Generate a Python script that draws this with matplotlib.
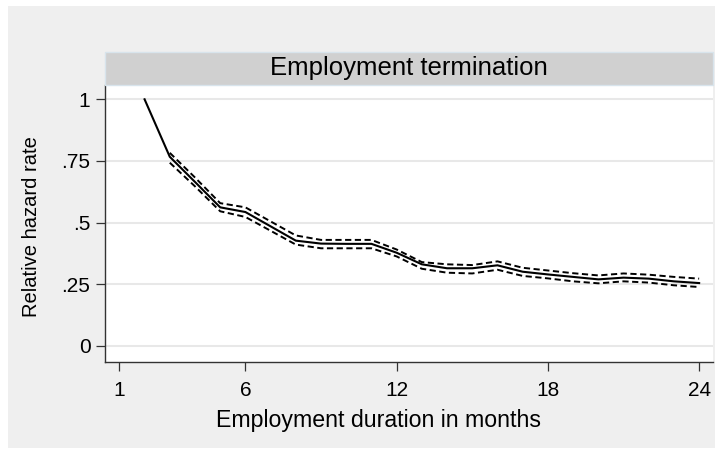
import numpy as np
import matplotlib
matplotlib.use("Agg")
import matplotlib.pyplot as plt
from matplotlib.patches import Rectangle

plt.rcParams['font.family'] = ['Liberation Sans', 'DejaVu Sans']

# relative hazard rate by month of employment (month 2 is the reference)
months = list(range(2, 25))
hazard = [1.0, 0.767, 0.665, 0.562, 0.543, 0.485, 0.427, 0.415, 0.414, 0.414, 0.378,
          0.331, 0.315, 0.315, 0.327, 0.301, 0.290, 0.280, 0.270, 0.277, 0.273, 0.262, 0.255]

# confidence band, months 3..24
ci_months = list(range(3, 25))
ci_upper = [0.783, 0.683, 0.579, 0.562, 0.505, 0.448, 0.430, 0.430, 0.430, 0.391, 0.340,
            0.331, 0.328, 0.343, 0.317, 0.306, 0.295, 0.286, 0.294, 0.289, 0.280, 0.273]
ci_lower = [0.743, 0.647, 0.546, 0.523, 0.467, 0.411, 0.396, 0.396, 0.396, 0.363, 0.313,
            0.297, 0.294, 0.309, 0.284, 0.274, 0.262, 0.254, 0.262, 0.257, 0.246, 0.239]

xticks = [1, 6, 12, 18, 24]
yticks = [0, 0.25, 0.5, 0.75, 1]
yticklabels = ["0", ".25", ".5", ".75", "1"]

W, H = 720, 455
fig = plt.figure(figsize=(W / 100, H / 100), dpi=100, facecolor='white')

# light gray outer region (Stata s2color style)
bg = Rectangle((8 / W, 1 - 448 / H), (715 - 8) / W, (448 - 6) / H,
               transform=fig.transFigure, facecolor='#efefef', edgecolor='none', zorder=-10)
fig.add_artist(bg)

ax = fig.add_axes([105 / W, 1 - 362 / H, (713 - 105) / W, (362 - 85) / H])
ax.set_facecolor('white')

ax.plot(months, hazard, color='black', lw=1.5, solid_joinstyle='miter', zorder=3)
ax.plot(ci_months, ci_upper, color='black', lw=1.4, dashes=(3.2, 1.8), zorder=3)
ax.plot(ci_months, ci_lower, color='black', lw=1.4, dashes=(3.2, 1.8), zorder=3)

ax.set_xlim(0.43, 24.55)
ax.set_ylim(-0.065, 1.058)
ax.set_xticks(xticks)
ax.set_yticks(yticks)
ax.set_yticklabels(yticklabels)
ax.tick_params(axis='both', labelsize=15, length=6.5, width=0.9, color='#333333')
ax.tick_params(axis='x', pad=7)
ax.tick_params(axis='y', pad=4)

ax.grid(axis='y', color='#e8e8e8', lw=1.5)
ax.set_axisbelow(True)
for s in ['top', 'right']:
    ax.spines[s].set_visible(False)
for s in ['left', 'bottom']:
    ax.spines[s].set_color('#333333')
    ax.spines[s].set_linewidth(1.0)

ax.set_xlabel('Employment duration in months', fontsize=16.7)
ax.xaxis.set_label_coords(0.45, -0.168)
ax.set_ylabel('Relative hazard rate', fontsize=14.5)
ax.yaxis.set_label_coords(-0.106, 0.49)

# title bar above the plot region
bar_h = 33 / 277
ax.add_patch(Rectangle((0, 1), 1, bar_h, transform=ax.transAxes, facecolor='#d0d0d0',
                       edgecolor='#d8e4ec', lw=1.0, clip_on=False, zorder=4))
ax.text(0.5, 1 + bar_h / 2, 'Employment termination', transform=ax.transAxes,
        ha='center', va='center', fontsize=18.5, zorder=5)

plt.savefig('out.png', dpi=100, facecolor=fig.get_facecolor())
